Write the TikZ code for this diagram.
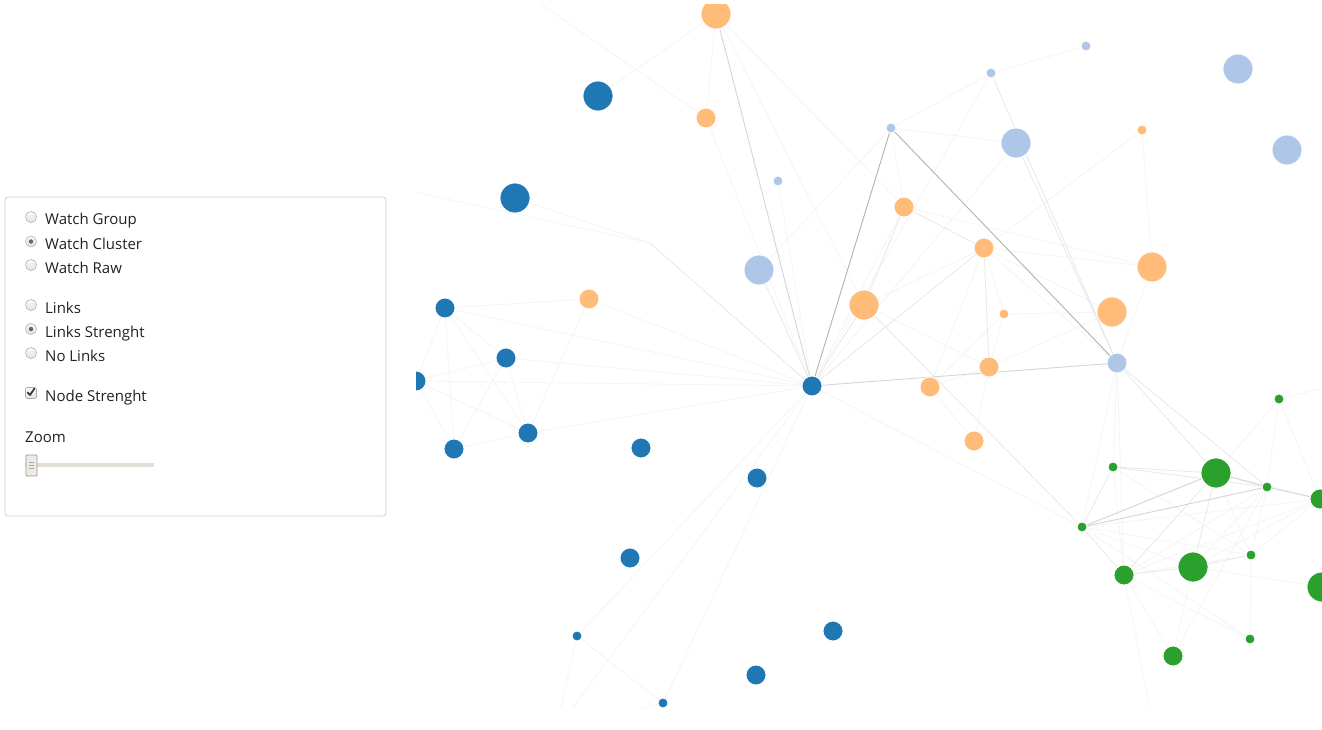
\documentclass[tikz,border=0pt]{standalone}
\usepackage{fontspec}
\newfontfamily\uifont{Open Sans}
\pgfdeclarelayer{bg}
\pgfsetlayers{bg,main}
\definecolor{cdb}{RGB}{31,119,180}
\definecolor{clb}{RGB}{174,199,232}
\definecolor{cor}{RGB}{255,187,120}
\definecolor{cgr}{RGB}{44,160,44}
\definecolor{ctxt}{RGB}{34,34,34}
\definecolor{cpanel}{RGB}{208,208,208}
\definecolor{ctrack}{RGB}{227,222,216}
\definecolor{chandle}{RGB}{238,234,230}
\definecolor{chandleb}{RGB}{160,152,144}
\tikzset{
  gnode/.style={circle,inner sep=0,outer sep=0,draw=white,line width=0.8pt},
  sm/.style={gnode,minimum size=10pt},
  md/.style={gnode,minimum size=20pt},
  lg/.style={gnode,minimum size=30pt},
  db/.style={fill=cdb}, lb/.style={fill=clb}, og/.style={fill=cor}, gr/.style={fill=cgr},
  l0/.style={draw=gray!8,line width=0.8pt},
  l1/.style={draw=gray!18,line width=0.8pt},
  l2/.style={draw=gray!33,line width=0.9pt},
  l3/.style={draw=gray!60,line width=0.9pt},
  radio/.style={circle,draw=gray!60,top color=gray!5,bottom color=gray!22,minimum size=11pt,inner sep=0,line width=0.6pt},
  rdot/.style={circle,fill=black!60,minimum size=4.5pt,inner sep=0},
  lbl/.style={anchor=base west,inner sep=0,text=ctxt,font=\uifont\fontsize{15}{18}\selectfont},
}
\begin{document}
\begin{tikzpicture}[x=1pt,y=-1pt]
\useasboundingbox (0,0) rectangle (1322,730);

% ---------- control panel ----------
\node[draw=cpanel,rounded corners=3pt,minimum width=381pt,minimum height=319pt,inner sep=0,line width=0.8pt] (panel) at (195.5,356.5) {};
\node[radio] (r1) at (31,217) {};
\node[radio] (r2) at (31,241.5) {};
\node[rdot] (r2d) at (r2.center) {};
\node[radio] (r3) at (31,265) {};
\node[radio] (r4) at (31,305) {};
\node[radio] (r5) at (31,329) {};
\node[rdot] (r5d) at (r5.center) {};
\node[radio] (r6) at (31,353) {};
\node[rectangle,rounded corners=1.5pt,draw=gray!65,top color=gray!5,bottom color=gray!22,minimum size=11pt,inner sep=0,line width=0.6pt] (cb) at (31,393) {};
\draw[line width=1.7pt,black!80,line cap=round,line join=round] ([shift={(-3.2,-0.5)}]cb.center) -- ([shift={(-1,2)}]cb.center) -- ([shift={(3.5,-4.5)}]cb.center);
\node[lbl] (t1) at (45,225) {Watch Group};
\node[lbl] (t2) at (45,249) {Watch Cluster};
\node[lbl] (t3) at (45,273) {Watch Raw};
\node[lbl] (t4) at (45,313) {Links};
\node[lbl] (t5) at (45,337) {Links Strenght};
\node[lbl] (t6) at (45,361) {No Links};
\node[lbl] (t7) at (45,401) {Node Strenght};
\node[lbl] (t8) at (25,442) {Zoom};
\node[fill=ctrack,minimum width=129pt,minimum height=4.5pt,inner sep=0,anchor=west] (track) at (25,465) {};
\node[draw=chandleb,fill=chandle,minimum width=11pt,minimum height=21pt,inner sep=0,rounded corners=1pt,line width=0.8pt] (handle) at (31.5,465.5) {};
\draw[gray!70,line width=0.6pt] ([shift={(-2.5,-3)}]handle.center) -- ([shift={(2.5,-3)}]handle.center);
\draw[gray!70,line width=0.6pt] ([shift={(-2.5,0)}]handle.center) -- ([shift={(2.5,0)}]handle.center);
\draw[gray!70,line width=0.6pt] ([shift={(-2.5,3)}]handle.center) -- ([shift={(2.5,3)}]handle.center);

% ---------- graph ----------
\begin{scope}
\clip (416,5) rectangle (1322,707);
% dark blue
\node[lg,db] (b1) at (598,96) {};
\node[lg,db] (b2) at (515,198) {};
\node[md,db] (b3) at (445,308) {};
\node[md,db] (b4) at (506,358) {};
\node[md,db] (b5) at (416,381) {};
\node[md,db] (b6) at (454,449) {};
\node[md,db] (b7) at (528,433) {};
\node[md,db] (b8) at (641,448) {};
\node[md,db] (b9) at (812,386) {};
\node[md,db] (b10) at (757,478) {};
\node[md,db] (b11) at (630,558) {};
\node[sm,db] (b12) at (577,636) {};
\node[md,db] (b13) at (833,631) {};
\node[md,db] (b14) at (756,675) {};
\node[sm,db] (b15) at (663,703) {};
% light blue
\node[sm,lb] (lb1) at (1086,46) {};
\node[sm,lb] (lb2) at (991,73) {};
\node[lg,lb] (lb3) at (1238,69) {};
\node[lg,lb] (lb4) at (1287,150) {};
\node[lg,lb] (lb5) at (1016,143) {};
\node[sm,lb] (lb6) at (891,128) {};
\node[sm,lb] (lb7) at (778,181) {};
\node[lg,lb] (lb8) at (759,270) {};
\node[md,lb] (lb9) at (1117,363) {};
% orange
\node[lg,og] (o1) at (716,14) {};
\node[md,og] (o2) at (706,118) {};
\node[md,og] (o3) at (589,299) {};
\node[md,og] (o4) at (904,207) {};
\node[md,og] (o5) at (984,248) {};
\node[lg,og] (o6) at (864,305) {};
\node[sm,og] (o7) at (1004,314) {};
\node[md,og] (o8) at (989,367) {};
\node[md,og] (o9) at (930,387) {};
\node[md,og] (o10) at (974,441) {};
\node[lg,og] (o11) at (1112,312) {};
\node[lg,og] (o12) at (1152,267) {};
\node[sm,og] (o13) at (1142,130) {};
% green
\node[sm,gr] (g1) at (1279,399) {};
\node[sm,gr] (g2) at (1113,467) {};
\node[lg,gr] (g3) at (1216,473) {};
\node[sm,gr] (g4) at (1267,487) {};
\node[md,gr] (g5) at (1320,499) {};
\node[sm,gr] (g6) at (1082,527) {};
\node[md,gr] (g7) at (1124,575) {};
\node[lg,gr] (g8) at (1193,567) {};
\node[sm,gr] (g9) at (1251,555) {};
\node[lg,gr] (g10) at (1322,587) {};
\node[sm,gr] (g11) at (1250,639) {};
\node[md,gr] (g12) at (1173,656) {};
% free ends
\coordinate (jn) at (650,243);
\coordinate (lft) at (410,191);
\coordinate (hid1) at (556,730);
\coordinate (hid2) at (600,719);
\coordinate (hid3) at (529,-4);
\coordinate (hid4) at (1340,384);
\coordinate (hid5) at (1152,720);
\end{scope}

\begin{pgfonlayer}{bg}
\fill[white] (0,0) rectangle (1322,730);
\begin{scope}
\clip (416,5) rectangle (1322,707);
% faintest links
\foreach \a/\b in {o1/b1,o1/o2,o1/o6,o1/o4,hid3/o2,o2/b9,lb8/lb6,lb7/b9,lft/jn,b2/jn,
  b3/o3,b3/b9,b4/b9,b5/b9,b7/b9,o3/b7,o3/b9,b3/b4,b3/b5,b3/b6,b3/b7,b4/b5,b4/b6,b4/b7,b5/b6,b5/b7,b6/b7,
  lb2/lb1,lb6/lb2,lb6/lb5,lb6/o4,lb2/b9,lb5/b9,o13/o5,o13/o12,o4/o12,o5/o12,o5/o11,o5/o9,o5/lb9,o5/o7,
  o6/o5,o6/o8,o9/o8,o7/o9,o7/o8,o7/o11,o8/o11,o12/lb9,o9/o10,o8/o10,b9/g6,b9/hid1,b12/hid1,b9/b12,b9/b15,
  b12/b15,b15/hid2,b9/o4,g1/hid4,g1/g3,g1/g4,g1/g5,lb9/g6,lb9/g2,lb9/g7,g6/g5,g6/g9,g6/g8,g6/g11,g2/g7,
  g2/g9,g3/g9,g3/g5,g4/g7,g4/g8,g4/g9,g7/g9,g7/g5,g7/g12,g7/g11,g8/g12,g8/g5,g9/g11,g9/g5,g4/g12,g8/g10,g7/hid5}
  {\draw[l0] (\a) -- (\b);}
% light links
\foreach \a/\b in {o4/o5,b9/o5,b9/o6,o5/o8,o6/g6,lb8/b9,jn/b9,lb9/g3,lb9/g4,g6/g7,g7/g8,g8/g9,g2/g3,g2/g4,g6/g2,g8/g3,o6/o4,g7/g3,lb2/lb9,lb5/lb9}
  {\draw[l1] (\a) -- (\b);}
% medium links
\foreach \a/\b in {o1/b9,b9/lb9,g6/g3,g6/g4,g3/g4,g4/g5}
  {\draw[l2] (\a) -- (\b);}
% strong links
\draw[l3] (b9) -- (lb6);
\draw[l3] (lb6) -- (lb9);
\end{scope}
\end{pgfonlayer}
\end{tikzpicture}
\end{document}
